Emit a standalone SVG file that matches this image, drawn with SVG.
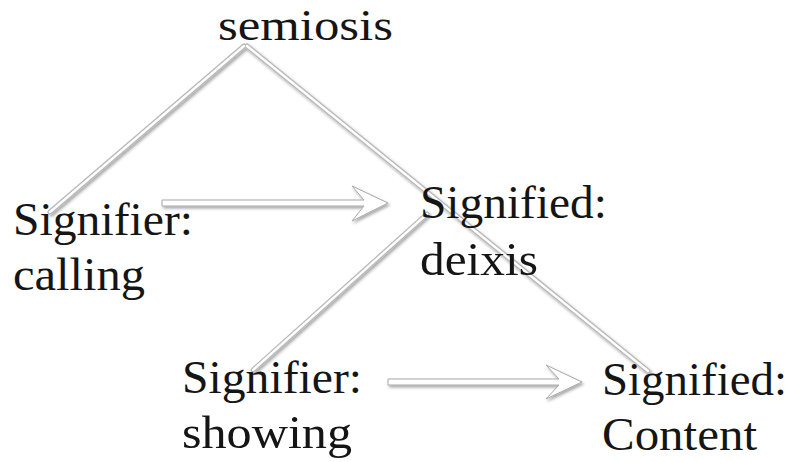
<svg xmlns="http://www.w3.org/2000/svg" width="792" height="462" viewBox="0 0 792 462">
<style>
text{font-family:"Liberation Serif","Times New Roman",serif;font-size:47px;fill:#151515}
.ln-o{stroke:#b8b8b8;stroke-width:5;fill:none;stroke-linecap:round}
.ln-i{stroke:#ffffff;stroke-width:2.4;fill:none;stroke-linecap:round}
.arr{fill:#ffffff;stroke:#a8a8a8;stroke-width:1;stroke-linejoin:round}
</style>
<defs>
<filter id="sh" x="-10%" y="-50%" width="120%" height="200%">
<feDropShadow dx="1.5" dy="2" stdDeviation="1.5" flood-color="#000" flood-opacity="0.35"/>
</filter>
</defs>
<rect width="792" height="462" fill="#ffffff"/>
<g id="connectors">
<g filter="url(#sh)">
<path class="ln-o" d="M244,46 L50,212 M247,46 L648,371 M427,214 L253,370"/>
<path class="ln-i" d="M244,46 L50,212 M247,46 L648,371 M427,214 L253,370"/>
</g>
<polygon class="arr" filter="url(#sh)" points="162,200 364,200 352,186 388,203 352,221 364,206 162,206"/>
<polygon class="arr" filter="url(#sh)" points="388,379 559,379 546,365 582,382 546,399 559,385 388,385"/>
</g>
<g id="semiosis"><text x="218" y="40" style="font-size:44px" textLength="175" lengthAdjust="spacingAndGlyphs">semiosis</text></g>
<g id="signifier-calling">
<text x="13" y="235" textLength="180" lengthAdjust="spacingAndGlyphs">Signifier:</text>
<text x="13" y="290" textLength="132" lengthAdjust="spacingAndGlyphs">calling</text>
</g>
<g id="signified-deixis">
<text x="420" y="218" textLength="187" lengthAdjust="spacingAndGlyphs">Signified:</text>
<text x="420" y="275" textLength="118" lengthAdjust="spacingAndGlyphs">deixis</text>
</g>
<g id="signifier-showing">
<text x="182" y="393" textLength="180" lengthAdjust="spacingAndGlyphs">Signifier:</text>
<text x="182" y="448" textLength="170" lengthAdjust="spacingAndGlyphs">showing</text>
</g>
<g id="signified-content">
<text x="602" y="395" textLength="185" lengthAdjust="spacingAndGlyphs">Signified:</text>
<text x="602" y="450" textLength="155" lengthAdjust="spacingAndGlyphs">Content</text>
</g>
</svg>
